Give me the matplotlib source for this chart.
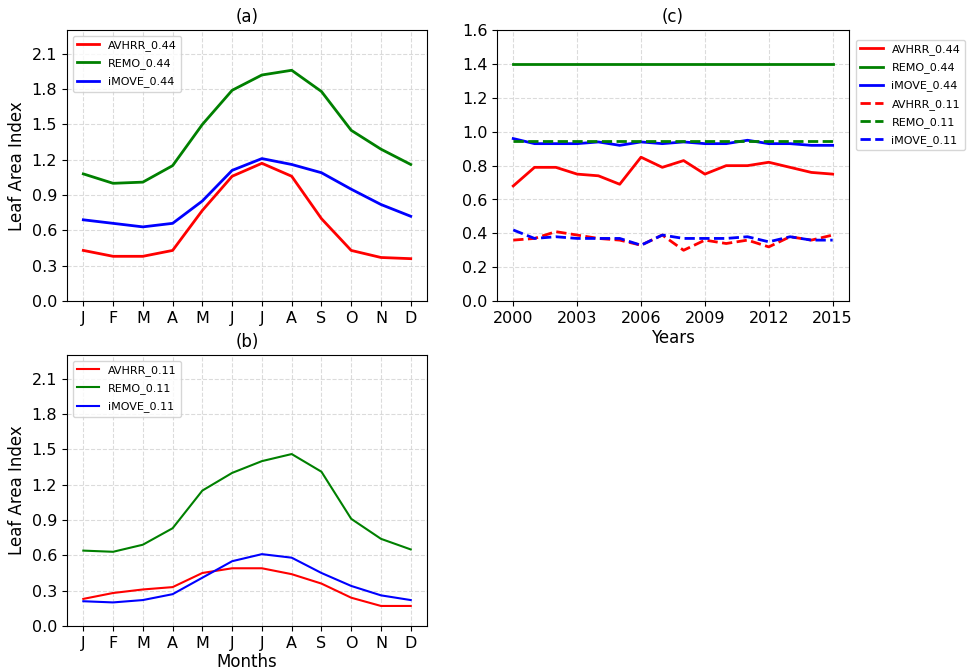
import matplotlib
matplotlib.use('Agg')
import matplotlib.pyplot as plt
import numpy as np

months = ['J', 'F', 'M', 'A', 'M', 'J', 'J', 'A', 'S', 'O', 'N', 'D']
years = list(range(2000, 2016))

# (a) monthly climatology, 0.44 deg
avhrr_044 = [0.43, 0.38, 0.38, 0.43, 0.77, 1.06, 1.17, 1.06, 0.70, 0.43, 0.37, 0.36]
remo_044 = [1.08, 1.00, 1.01, 1.15, 1.50, 1.79, 1.92, 1.96, 1.78, 1.45, 1.29, 1.16]
imove_044 = [0.69, 0.66, 0.63, 0.66, 0.85, 1.11, 1.21, 1.16, 1.09, 0.95, 0.82, 0.72]

# (b) monthly climatology, 0.11 deg
avhrr_011 = [0.23, 0.28, 0.31, 0.33, 0.45, 0.49, 0.49, 0.44, 0.36, 0.24, 0.17, 0.17]
remo_011 = [0.64, 0.63, 0.69, 0.83, 1.15, 1.30, 1.40, 1.46, 1.31, 0.91, 0.74, 0.65]
imove_011 = [0.21, 0.20, 0.22, 0.27, 0.41, 0.55, 0.61, 0.58, 0.45, 0.34, 0.26, 0.22]

# (c) annual means
avhrr_044_yr = [0.68, 0.79, 0.79, 0.75, 0.74, 0.69, 0.85, 0.79, 0.83, 0.75, 0.80, 0.80,
                0.82, 0.79, 0.76, 0.75]
remo_044_yr = [1.40] * 16
imove_044_yr = [0.96, 0.93, 0.93, 0.93, 0.94, 0.92, 0.94, 0.93, 0.94, 0.93, 0.93, 0.95,
                0.93, 0.93, 0.92, 0.92]
avhrr_011_yr = [0.36, 0.37, 0.41, 0.39, 0.37, 0.36, 0.33, 0.39, 0.30, 0.36, 0.34, 0.36,
                0.32, 0.38, 0.36, 0.39]
remo_011_yr = [0.945] * 16
imove_011_yr = [0.42, 0.37, 0.38, 0.37, 0.37, 0.37, 0.33, 0.39, 0.37, 0.37, 0.37, 0.38,
                0.35, 0.38, 0.36, 0.36]

grid_kw = dict(color='lightgray', linestyle='--', linewidth=0.8, alpha=0.8)

fig = plt.figure(figsize=(9.76, 6.72), dpi=100)
ax_a = fig.add_axes([0.0686, 0.552, 0.369, 0.403])
ax_b = fig.add_axes([0.0686, 0.0685, 0.369, 0.403])
ax_c = fig.add_axes([0.5095, 0.552, 0.360, 0.403])

x = np.arange(12)


def monthly(ax, avhrr, remo, imove, res, lw, title):
    ax.plot(x, avhrr, color='red', lw=lw, label='AVHRR_' + res)
    ax.plot(x, remo, color='green', lw=lw, label='REMO_' + res)
    ax.plot(x, imove, color='blue', lw=lw, label='iMOVE_' + res)
    ax.set_xticks(x)
    ax.set_xticklabels(months)
    ax.set_yticks(np.arange(0, 2.2, 0.3))
    ax.set_ylim(0, 2.3)
    ax.set_ylabel('Leaf Area Index', fontsize=12)
    ax.set_title(title, fontsize=12)
    ax.tick_params(labelsize=11.5)
    ax.grid(True, **grid_kw)
    ax.legend(loc='upper left', fontsize=8, labelspacing=0.65)


monthly(ax_a, avhrr_044, remo_044, imove_044, '0.44', 2, '(a)')
monthly(ax_b, avhrr_011, remo_011, imove_011, '0.11', 1.5, '(b)')
ax_b.set_xlabel('Months', fontsize=12, labelpad=2)

ax_c.plot(years, avhrr_044_yr, color='red', lw=2, label='AVHRR_0.44')
ax_c.plot(years, remo_044_yr, color='green', lw=2, label='REMO_0.44')
ax_c.plot(years, imove_044_yr, color='blue', lw=2, label='iMOVE_0.44')
ax_c.plot(years, avhrr_011_yr, color='red', lw=2, ls='--', label='AVHRR_0.11')
ax_c.plot(years, remo_011_yr, color='green', lw=2, ls='--', label='REMO_0.11')
ax_c.plot(years, imove_011_yr, color='blue', lw=2, ls='--', label='iMOVE_0.11')
ax_c.set_xticks(range(2000, 2016, 3))
ax_c.set_yticks(np.arange(0, 1.61, 0.2))
ax_c.set_ylim(0, 1.6)
ax_c.set_xlabel('Years', fontsize=12, labelpad=2)
ax_c.set_title('(c)', fontsize=12)
ax_c.tick_params(labelsize=11.5)
ax_c.grid(True, **grid_kw)
ax_c.legend(loc='upper left', bbox_to_anchor=(1.005, 0.985), fontsize=8,
            labelspacing=0.65)

fig.savefig('out.png', dpi=100)
